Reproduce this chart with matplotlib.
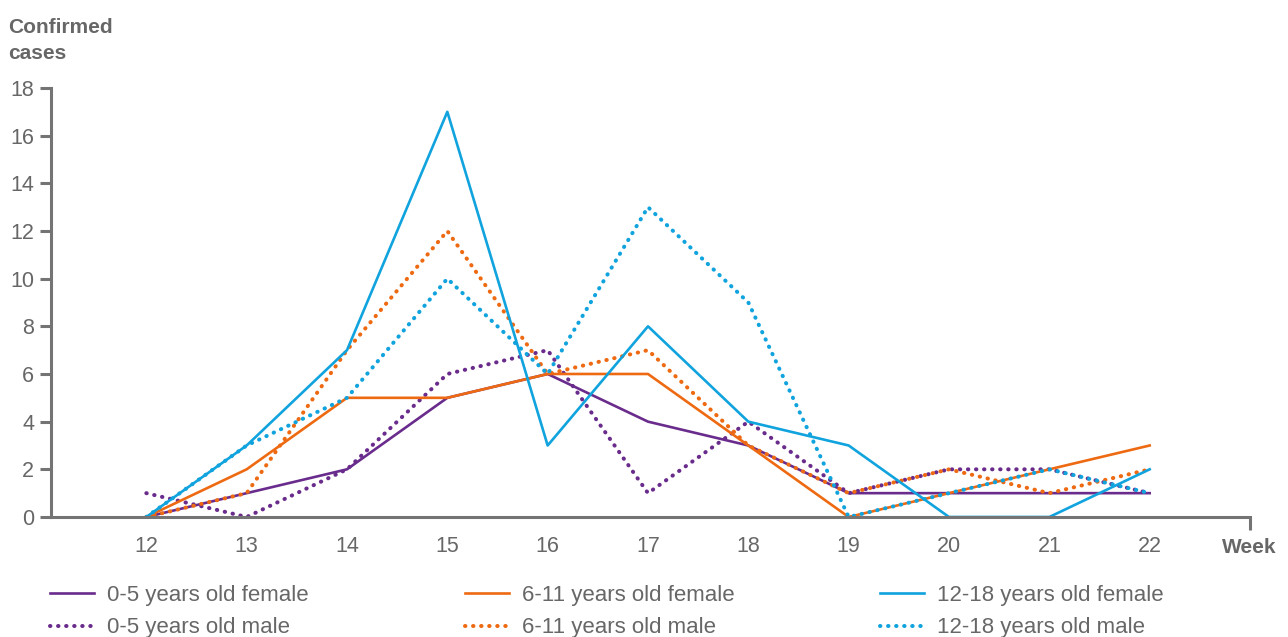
import matplotlib.pyplot as plt

weeks = [12, 13, 14, 15, 16, 17, 18, 19, 20, 21, 22]

f_0_5 = [0, 1, 2, 5, 6, 4, 3, 1, 1, 1, 1]
m_0_5 = [1, 0, 2, 6, 7, 1, 4, 1, 2, 2, 1]
f_6_11 = [0, 2, 5, 5, 6, 6, 3, 0, 1, 2, 3]
m_6_11 = [0, 1, 7, 12, 6, 7, 3, 1, 2, 1, 2]
f_12_18 = [0, 3, 7, 17, 3, 8, 4, 3, 0, 0, 2]
m_12_18 = [0, 3, 5, 10, 6, 13, 9, 0, 1, 2, 1]

PURPLE = "#6a2c8c"
ORANGE = "#ee6a12"
BLUE = "#10a3dd"
TEXT = "#676767"
AXIS = "#747474"

plt.rcParams["font.family"] = ["Liberation Sans", "DejaVu Sans"]

fig = plt.figure(figsize=(12.88, 6.37), dpi=100)
ax = fig.add_axes([0.0396, 0.1884, 0.9309, 0.6735])

dots = (0, (0.1, 1.9))
series = [
    (f_0_5, PURPLE, "-", "0-5 years old female"),
    (m_0_5, PURPLE, dots, "0-5 years old male"),
    (f_6_11, ORANGE, "-", "6-11 years old female"),
    (m_6_11, ORANGE, dots, "6-11 years old male"),
    (f_12_18, BLUE, "-", "12-18 years old female"),
    (m_12_18, BLUE, dots, "12-18 years old male"),
]
handles = []
for vals, col, ls, lab in series:
    if ls == "-":
        h, = ax.plot(weeks, vals, color=col, lw=1.9, label=lab)
    else:
        h, = ax.plot(weeks, vals, color=col, lw=2.9, linestyle=ls,
                     dash_capstyle="round", label=lab)
    handles.append(h)

ax.set_xlim(11.05, 23.0)
ax.set_ylim(0, 18)
ax.set_yticks(range(0, 19, 2))
ax.set_xticks(weeks)
ax.set_xticks([23.0], minor=True)

for s in ("top", "right"):
    ax.spines[s].set_visible(False)
for s in ("left", "bottom"):
    ax.spines[s].set_color(AXIS)
    ax.spines[s].set_linewidth(2.2)
ax.tick_params(axis="y", direction="out", length=8, width=2.2, color=AXIS,
               labelsize=15.5, labelcolor=TEXT, pad=4)
ax.tick_params(axis="x", which="major", length=0, labelsize=15.5, labelcolor=TEXT, pad=14)
ax.tick_params(axis="x", which="minor", direction="out", length=9, width=2.2, color=AXIS)

fig.text(0.006, 0.972, "Confirmed\ncases", fontsize=15, fontweight="bold", color=TEXT,
         va="top", ha="left", linespacing=1.5)
fig.text(0.991, 0.141, "Week", fontsize=15, fontweight="bold", color=TEXT,
         va="center", ha="right")

# three legend columns at fixed spacing, like the original
col_x = [0.0318, 0.354, 0.676]
for i, x0 in enumerate(col_x):
    pair = handles[2 * i:2 * i + 2]
    leg = fig.legend(pair, [h.get_label() for h in pair],
                     loc="lower left", bbox_to_anchor=(x0, -0.016), frameon=False,
                     fontsize=16, handlelength=2.0, handletextpad=0.58,
                     labelspacing=0.5, borderaxespad=0)
    for t in leg.get_texts():
        t.set_color(TEXT)

fig.savefig("out.png", dpi=100)
